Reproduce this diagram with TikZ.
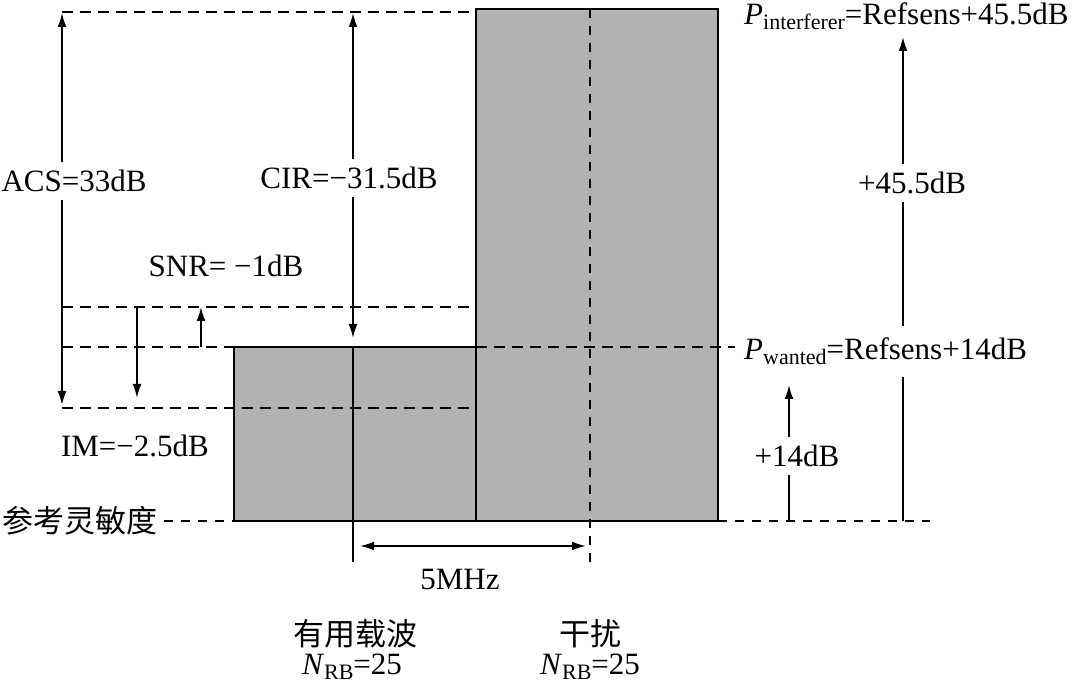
\documentclass[tikz,border=0pt]{standalone}
\usepackage{fontspec}
\setmainfont{Liberation Serif}
\newfontfamily\cjk{Noto Sans CJK SC}
\usetikzlibrary{arrows.meta}
\definecolor{boxgray}{RGB}{178,178,178}
\newcommand{\sub}[1]{\raisebox{-5pt}{\fontsize{22}{22}\selectfont #1}}
\begin{document}
\begin{tikzpicture}[x=1pt,y=-1pt,
  every node/.style={font=\fontsize{31}{36}\selectfont, inner sep=2pt},
  lbl/.style={inner xsep=2pt, inner ysep=8pt},
  dline/.style={line width=1.6pt, dash pattern=on 11pt off 7pt},
  fline/.style={line width=1.2pt, dash pattern=on 9pt off 8pt},
  sline/.style={line width=1.7pt},
  arr/.style={line width=1.7pt, -{Latex[length=14pt,width=9pt]}},
  dbl/.style={line width=1.7pt, {Latex[length=14pt,width=9pt]}-{Latex[length=14pt,width=9pt]}}]
\useasboundingbox (0,0) rectangle (1074,684);

% box corners
\coordinate (w1) at (234,347);
\coordinate (w2) at (476,521);
\coordinate (i1) at (476,9);
\coordinate (i2) at (718,521);

% fills
\fill[boxgray] (w1) rectangle (w2);
\fill[boxgray] (i1) rectangle (i2);

% dashed level lines
\coordinate (lt0) at (62,12);   \coordinate (lt1) at (476,12);
\coordinate (ls0) at (62,307);  \coordinate (ls1) at (476,307);
\coordinate (lw0) at (62,347);  \coordinate (lw1) at (735,347);
\coordinate (lm0) at (62,408);  \coordinate (lm1) at (474,408);
\draw[dline] (lt0) -- (lt1);
\draw[dline] (ls0) -- (ls1);
\draw[dline] (lw0) -- (lw1);
\draw[dline] (lm0) -- (lm1);

% centre lines
\coordinate (ic0) at (590,9);  \coordinate (ic1) at (590,562);
\draw[fline] (ic0) -- (ic1);
\coordinate (wc0) at (353,347); \coordinate (wc1) at (353,562);
\draw[sline] (wc0) -- (wc1);

% box borders
\draw[sline] (w1) rectangle (w2);
\draw[sline] (i1) rectangle (i2);

% reference sensitivity
\node[outer xsep=4pt] (ref) at (80,521) {\cjk 参考灵敏度};
\coordinate (rl1) at (234,521);
\draw[fline] (ref.east) -- (rl1);
\coordinate (rr0) at (718,521); \coordinate (rr1) at (930,521);
\draw[fline] (rr0) -- (rr1);

% ACS
\node[lbl] (acs) at (74,181) {ACS=33dB};
\coordinate (aT) at (62,13); \coordinate (aB) at (62,405);
\draw[arr] (acs.north -| aT) -- (aT);
\draw[arr] (acs.south -| aB) -- (aB);

% CIR
\node[lbl] (cir) at (349,178) {CIR=−31.5dB};
\coordinate (cT) at (353,13); \coordinate (cB) at (353,338);
\draw[arr] (cir.north -| cT) -- (cT);
\draw[arr] (cir.south -| cB) -- (cB);

% SNR / IM
\node (snr) at (226,266) {SNR= −1dB};
\node (im) at (135,446) {IM=−2.5dB};
\coordinate (s1a) at (137,307); \coordinate (s1b) at (137,398);
\draw[arr] (s1a) -- (s1b);
\coordinate (s2a) at (201,347); \coordinate (s2b) at (201,307);
\draw[arr] (s2a) -- (s2b);

% right side labels
\node[anchor=base west, lbl] (pint) at (742,25) {\textit{P}\sub{interferer}=Refsens+45.5dB};
\node[anchor=base west, inner xsep=2pt, inner ysep=12pt] (pwant) at (742,360) {\textit{P}\sub{wanted}=Refsens+14dB};
\node[lbl] (p45) at (912,183) {+45.5dB};
\node[lbl] (p14) at (797,456) {+14dB};

\coordinate (bigB) at (903,521); \coordinate (bigT) at (903,37);
\draw[sline] (bigB) -- (pwant.south -| bigB);
\draw[sline] (pwant.north -| bigB) -- (p45.south -| bigB);
\draw[arr] (p45.north -| bigB) -- (bigT);

\coordinate (smB) at (789,521); \coordinate (smT) at (789,385);
\draw[sline] (smB) -- (p14.south -| smB);
\draw[arr] (p14.north -| smB) -- (smT);

% 5 MHz
\coordinate (fL) at (360,546); \coordinate (fR) at (586,546);
\draw[dbl] (fL) -- (fR);
\node (mhz) at (460,580) {5MHz};

% carrier labels
\node (want) at (355,634) {\cjk 有用载波};
\node (nw) at (352,667) {\textit{N}\sub{RB}=25};
\node (intf) at (590,634) {\cjk 干扰};
\node (ni) at (590,667) {\textit{N}\sub{RB}=25};
\end{tikzpicture}
\end{document}
